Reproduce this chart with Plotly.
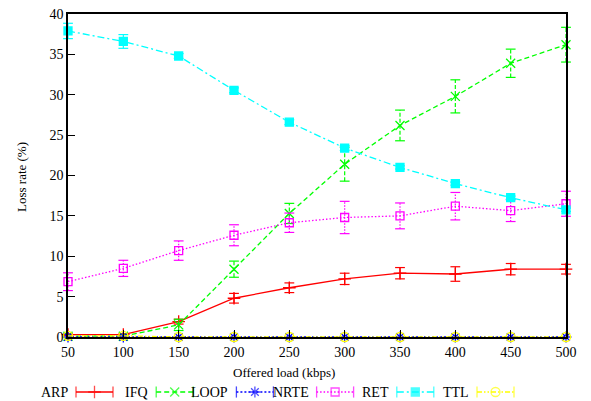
import plotly.graph_objects as go

# Offered load (kbps)
load = [50, 100, 150, 200, 250, 300, 350, 400, 450, 500]

# Loss rate (%) per drop reason, with error-bar half-widths
arp = [0.3, 0.3, 1.9, 4.8, 6.1, 7.2, 7.9, 7.8, 8.4, 8.4]
arp_err = [0.1, 0.1, 0.3, 0.6, 0.6, 0.7, 0.7, 0.9, 0.7, 0.6]
ifq = [0.1, 0.1, 1.5, 8.4, 15.3, 21.4, 26.2, 29.8, 33.9, 36.2]
ifq_err = [0.0, 0.0, 0.7, 1.0, 1.25, 2.1, 1.9, 2.05, 1.75, 2.15]
loop = [0.0, 0.0, 0.0, 0.0, 0.0, 0.0, 0.0, 0.0, 0.0, 0.0]
loop_err = [0.0, 0.0, 0.0, 0.0, 0.0, 0.0, 0.0, 0.0, 0.0, 0.0]
nrte = [6.85, 8.5, 10.7, 12.6, 14.15, 14.8, 15.0, 16.2, 15.65, 16.5]
nrte_err = [1.1, 1.0, 1.2, 1.3, 1.2, 2.0, 1.6, 1.7, 1.35, 1.55]
ret = [37.9, 36.6, 34.8, 30.55, 26.6, 23.4, 21.0, 19.0, 17.25, 15.75]
ret_err = [0.95, 0.85, 0.3, 0.3, 0.3, 0.3, 0.2, 0.2, 0.2, 0.2]
ttl = [0.15, 0.15, 0.0, 0.0, 0.0, 0.0, 0.0, 0.0, 0.0, 0.0]
ttl_err = [0.0, 0.0, 0.0, 0.0, 0.0, 0.0, 0.0, 0.0, 0.0, 0.0]

names = ["ARP", "IFQ", "LOOP", "NRTE", "RET", "TTL"]
values = [arp, ifq, loop, nrte, ret, ttl]
errors = [arp_err, ifq_err, loop_err, nrte_err, ret_err, ttl_err]

colors = ["#ff0000", "#00ff00", "#0000ff", "#ff00ff", "#00ffff", "#ffff00"]
dashes = ["solid", "5px,3px", "2px,2px", "1.5px,2px", "7px,3px,2px,3px",
          "5px,2px,1.5px,2px,1.5px,2px"]
bar_dashes = ["solid", "4px,2px", "1.5px,1.5px", "1.5px,1.5px", "solid",
              "solid"]
symbols = ["cross-thin", "x-thin", "asterisk-open", "square-open", "square",
           "circle-open"]
sizes = [9, 9, 9, 8, 8, 9]

W, H = 591, 401
FONT = "Liberation Serif"
TXT = 14

fig = go.Figure()

for name, y, e, c, d, bd, s, sz in zip(names, values, errors, colors, dashes,
                                       bar_dashes, symbols, sizes):
    # error bars: vertical stroke in the series' line style plus solid caps
    bx, by, cx, cy = [], [], [], []
    for xv, v, ev in zip(load, y, e):
        if ev > 0:
            bx += [xv, xv, None]
            by += [v - ev, v + ev, None]
            cx += [xv, xv]
            cy += [v - ev, v + ev]
    if bx:
        fig.add_trace(go.Scatter(
            x=bx, y=by, mode="lines", line=dict(color=c, width=1.2, dash=bd),
            cliponaxis=False, showlegend=False, hoverinfo="skip"))
        fig.add_trace(go.Scatter(
            x=cx, y=cy, mode="markers",
            marker=dict(symbol="line-ew", size=7, color=c,
                        line=dict(color=c, width=1.2)),
            cliponaxis=False, showlegend=False, hoverinfo="skip"))
    fig.add_trace(go.Scatter(
        x=load, y=y, name=name, mode="lines+markers",
        line=dict(color=c, width=1.3, dash=d),
        marker=dict(symbol=s, size=sz, color=c, line=dict(color=c, width=1.3)),
        cliponaxis=False, showlegend=False,
    ))

# Key row under the axes: label text followed by a line sample
key_y = 392
for i, (name, c, d, s, sz) in enumerate(zip(names, colors, dashes, symbols,
                                            sizes)):
    x0 = 76 + 80.2 * i
    x1 = x0 + 37
    fig.add_trace(go.Scatter(
        x=[x0, (x0 + x1) / 2, x1], y=[key_y] * 3, xaxis="x2", yaxis="y2",
        mode="lines+markers", line=dict(color=c, width=1.3, dash=d),
        marker=dict(symbol=["line-ns", s, "line-ns"], size=[8, sz, 8], color=c,
                    line=dict(color=c, width=1.3)),
        cliponaxis=False, showlegend=False, hoverinfo="skip",
    ))
    fig.add_annotation(x=x0 - 6, y=key_y, xref="x2", yref="y2", text=name,
                       showarrow=False, xanchor="right", yanchor="middle",
                       font=dict(family=FONT, size=TXT, color="black"))

fig.add_annotation(x=284, y=372, xref="x2", yref="y2",
                   text="Offered load (kbps)", showarrow=False,
                   xanchor="center", yanchor="middle",
                   font=dict(family=FONT, size=13, color="black"))
fig.add_annotation(x=21, y=177, xref="x2", yref="y2", text="Loss rate (%)",
                   textangle=-90, showarrow=False, xanchor="center",
                   yanchor="middle",
                   font=dict(family=FONT, size=13, color="black"))

axis_common = dict(showgrid=False, zeroline=False, showline=True,
                   linecolor="black", linewidth=1.5, mirror=True,
                   ticks="inside", ticklen=7, tickwidth=1, tickcolor="black",
                   automargin=False,
                   tickfont=dict(family=FONT, size=TXT, color="black"))

fig.update_layout(
    template="none",
    width=W, height=H, margin=dict(l=0, r=0, t=0, b=0, pad=0),
    font=dict(family=FONT, size=TXT, color="black"),
    paper_bgcolor="white", plot_bgcolor="rgba(0,0,0,0)",
    xaxis=dict(domain=[68 / W, 566 / W], range=[50, 500], tickmode="array",
               tickvals=load, ticklabelstandoff=1, **axis_common),
    yaxis=dict(domain=[1 - 337 / H, 1 - 14 / H], range=[0, 40], dtick=5,
               ticklabelstandoff=0, **axis_common),
    xaxis2=dict(domain=[0, 1], range=[0, W], visible=False, anchor="y2",
                automargin=False),
    yaxis2=dict(domain=[0, 1], range=[H, 0], visible=False, anchor="x2",
                automargin=False),
    showlegend=False,
)

fig.write_html("out.html")
